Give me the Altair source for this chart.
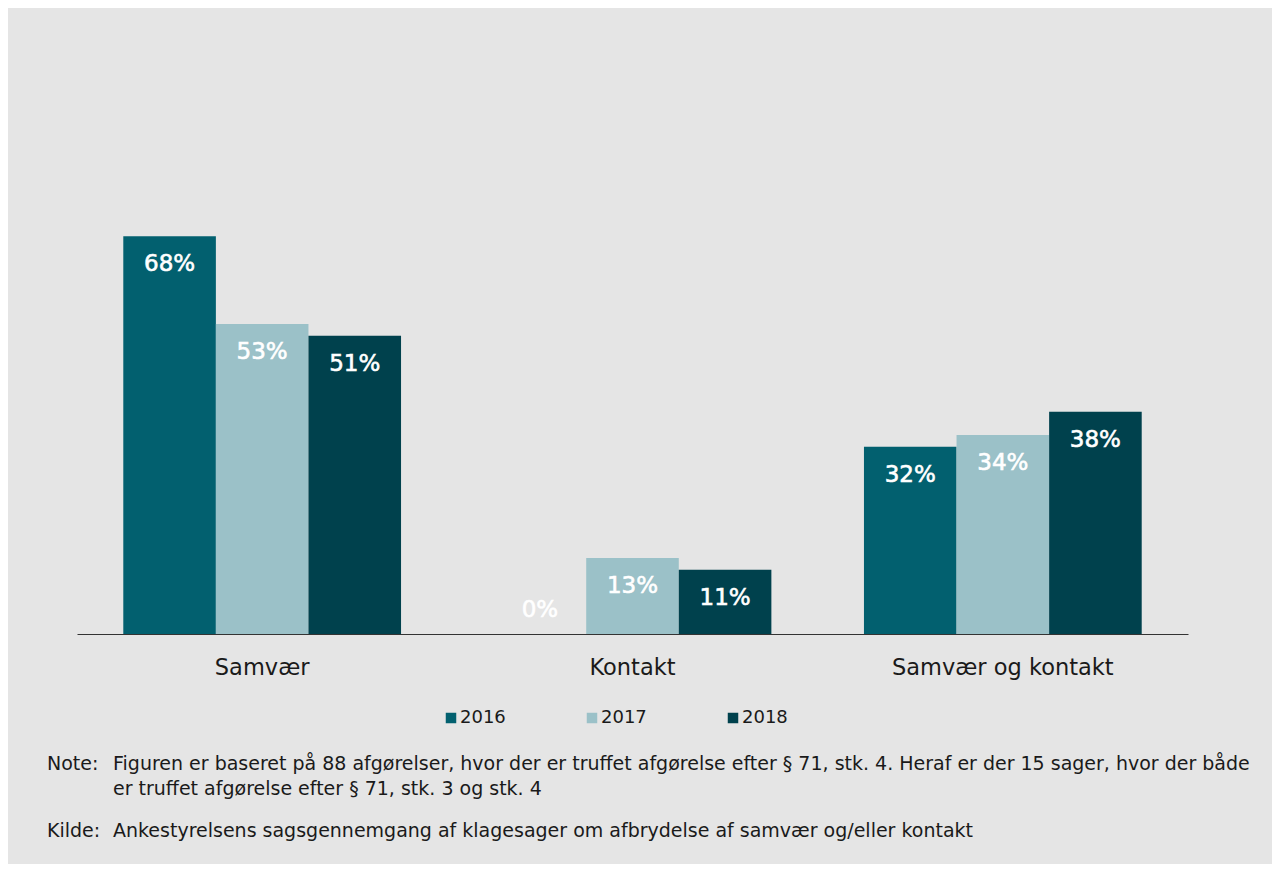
import altair as alt
import pandas as pd

categories = ["Samvær", "Kontakt", "Samvær og kontakt"]
years = ["2016", "2017", "2018"]
values_2016 = [68, 0, 32]
values_2017 = [53, 13, 34]
values_2018 = [51, 11, 38]
colors = ["#02606f", "#9bc1c8", "#00414d"]

note_label = "Note:"
note_lines = [
    "Figuren er baseret på 88 afgørelser, hvor der er truffet afgørelse efter § 71, stk. 4. Heraf er der 15 sager, hvor der både",
    "er truffet afgørelse efter § 71, stk. 3 og stk. 4",
]
source_label = "Kilde:"
source_text = "Ankestyrelsens sagsgennemgang af klagesager om afbrydelse af samvær og/eller kontakt"

rows = []
for yr, vals in zip(years, [values_2016, values_2017, values_2018]):
    for cat, v in zip(categories, vals):
        rows.append({"kategori": cat, "år": yr, "værdi": v, "label": f"{v}%"})
df = pd.DataFrame(rows)
single = pd.DataFrame({"dummy": [0]})

FONT = "DejaVu Sans"
TXT = "#1a1a1a"

base = alt.Chart(df).encode(
    x=alt.X(
        "kategori:N",
        sort=categories,
        scale=alt.Scale(paddingInner=0.25, paddingOuter=0.125),
        axis=alt.Axis(
            title=None, labelAngle=0, ticks=False, domainColor="#333333",
            domainWidth=1, labelFontSize=22.5, labelFont=FONT, labelColor=TXT,
            labelPadding=22, grid=False, labelLimit=0,
        ),
    ),
    xOffset=alt.XOffset("år:N", sort=years, scale=alt.Scale(paddingInner=0, paddingOuter=0)),
)

bars = base.mark_bar().encode(
    y=alt.Y("værdi:Q", scale=alt.Scale(domain=[0, 100]), axis=None),
    color=alt.Color(
        "år:N",
        sort=years,
        scale=alt.Scale(domain=years, range=colors),
        legend=alt.Legend(
            title=None, orient="none", legendX=365, legendY=660,
            direction="horizontal", columns=3, symbolType="square",
            symbolSize=110, symbolStrokeWidth=0, labelFontSize=18,
            labelFont=FONT, labelColor=TXT, labelOffset=0,
            columnPadding=77, padding=0,
        ),
    ),
)

labels = base.transform_calculate(
    pos="datum['værdi'] > 5 ? datum['værdi'] : 8.9"
).mark_text(
    color="white", font=FONT, fontSize=23, fontWeight="normal",
    stroke="white", strokeWidth=0.6,
    baseline="middle", dy=28,
).encode(
    y=alt.Y("pos:Q", scale=alt.Scale(domain=[0, 100]), axis=None),
    text="label:N",
)

common = dict(align="left", baseline="alphabetic", font=FONT, fontSize=19, color=TXT)

note_head = alt.Chart(single).mark_text(**common).encode(
    x=alt.value(-30), y=alt.value(721), text=alt.value(note_label))

note_body = alt.Chart(single).mark_text(lineHeight=25, **common).encode(
    x=alt.value(36), y=alt.value(721), text=alt.value(note_lines))

src_head = alt.Chart(single).mark_text(**common).encode(
    x=alt.value(-30), y=alt.value(788), text=alt.value(source_label))

src_body = alt.Chart(single).mark_text(**common).encode(
    x=alt.value(36), y=alt.value(788), text=alt.value(source_text))

chart = alt.layer(bars, labels, note_head, note_body, src_head, src_body).properties(
    width=1111,
    height=585,
    background="#e5e5e5",
    autosize=alt.AutoSizeParams(type="none"),
    padding={"left": 69, "top": 41, "right": 84, "bottom": 230},
).configure_view(stroke=None)

chart.save("out.html", embed_options={"renderer": "svg", "actions": False})
